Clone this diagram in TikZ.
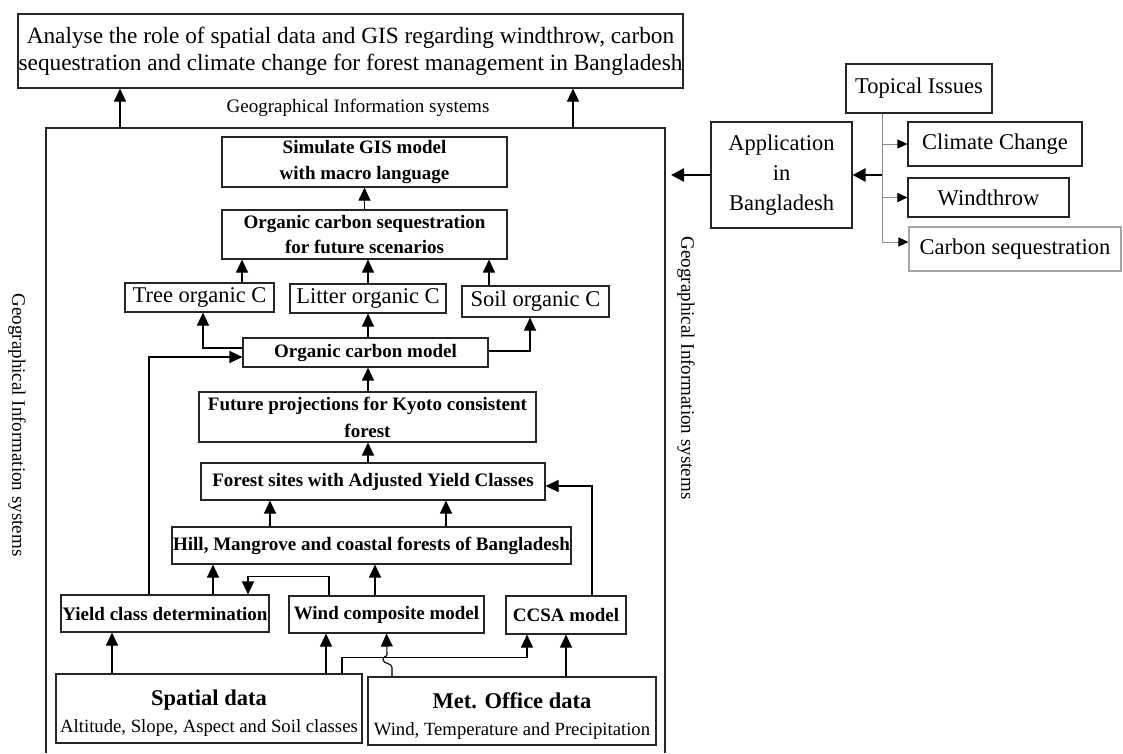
\documentclass[tikz,border=0pt]{standalone}
\usepackage{fontspec}
\setmainfont{Liberation Serif}
\usetikzlibrary{arrows.meta}

\begin{document}
\begin{tikzpicture}[
    x=1pt, y=-1pt,
    every node/.style={inner sep=0pt, align=center},
    box/.style={rectangle, draw=black!85, line width=1.1pt, font=\fontsize{22.5}{27}\selectfont},
    model/.style={rectangle, draw=black!85, line width=1.1pt, font=\fontsize{19}{25}\selectfont\bfseries},
    data/.style={rectangle, draw=black!85, line width=1.1pt, font=\fontsize{18.7}{27}\selectfont},
    gistext/.style={font=\fontsize{19}{22}\selectfont},
    arrow/.style={-{Triangle[length=13pt,width=12pt]}, line width=1.1pt}, % thin flow arrows
    bigarrow/.style={-{Triangle[length=13pt,width=13pt]}, line width=2.6pt},
    branch/.style={-{Triangle[length=10pt,width=9pt,color=black,fill=black]}, draw=black!45, line width=0.9pt}
]
\useasboundingbox (0,0) rectangle (1123,753);

\node[box, minimum width=665pt, minimum height=74pt, font=\fontsize{23.3}{27}\selectfont] (title) at (350.5,51) {Analyse the role of spatial data and GIS regarding windthrow, carbon\\sequestration and climate change for forest management in Bangladesh};

% GIS frame
\coordinate (gisNW) at (46,128);
\coordinate (gisNE) at (665,128);
\draw[line width=1.1pt, draw=black!85] (46,753) -- (gisNW) -- (gisNE) -- (665,753);
\node[gistext] (gistop) at (358,108) {Geographical Information systems};
\node[gistext, rotate=-90] (gisleft) at (17,425) {Geographical Information systems};
\node[gistext, rotate=-90] (gisright) at (686,368) {Geographical Information systems};

\node[model, minimum width=285pt, minimum height=50pt] (simulate) at (364.5,162) {Simulate GIS model\\with macro language};
\node[model, minimum width=285pt, minimum height=49pt] (sequest) at (364.5,234.5) {Organic carbon sequestration\\for future scenarios};
\node[box, minimum width=149pt, minimum height=29pt] (tree) at (199.5,297.5) {Tree organic C};
\node[box, minimum width=156pt, minimum height=29pt] (litter) at (368,298.5) {Litter organic C};
\node[box, minimum width=147pt, minimum height=31pt] (soil) at (535.5,301.5) {Soil organic C};
\node[model, minimum width=245pt, minimum height=29pt] (ocmodel) at (365.5,352.5) {Organic carbon model};
\node[model, minimum width=337pt, minimum height=50pt, font=\fontsize{19}{27}\selectfont\bfseries] (future) at (367.5,417) {Future projections for Kyoto consistent\\forest};
\node[model, minimum width=344pt, minimum height=37pt] (sites) at (373,481.5) {Forest sites with Adjusted Yield Classes};
\node[model, minimum width=399pt, minimum height=37pt] (forests) at (371.5,545.5) {Hill, Mangrove and coastal forests of Bangladesh};
\node[model, minimum width=208pt, minimum height=37pt] (yield) at (165,613.5) {Yield class determination};
\node[model, minimum width=195pt, minimum height=37pt] (wind) at (386.5,614.5) {Wind composite model};
\node[model, minimum width=120pt, minimum height=38pt] (ccsa) at (566,615) {CCSA model};
\node[data, minimum width=306pt, minimum height=69pt] (spatial) at (209,708.5) {\rule{0pt}{25pt}{\fontsize{22.5}{27}\selectfont\bfseries Spatial data}\\Altitude, Slope, Aspect and Soil classes};
\node[data, minimum width=288pt, minimum height=68pt] (met) at (512,711) {\rule{0pt}{25pt}{\fontsize{22.5}{27}\selectfont\bfseries Met. Office data}\\Wind, Temperature and Precipitation};

\node[box, minimum width=146pt, minimum height=49pt] (topical) at (919,88.5) {Topical Issues};
\node[box, minimum width=141pt, minimum height=106pt, font=\fontsize{22.5}{30}\selectfont] (app) at (781.5,175) {Application\\in\\Bangladesh};
\node[box, minimum width=174pt, minimum height=44pt] (climate) at (995,144) {Climate Change};
\node[box, minimum width=161pt, minimum height=39pt] (windthrow) at (988.5,197.5) {Windthrow};
\node[box, draw=black!35, minimum width=212pt, minimum height=44pt] (carbon) at (1015,249) {Carbon sequestration};

\draw[arrow] ([xshift=74pt]gisNW) -- ([xshift=74pt]gisNW |- title.south);
\draw[arrow] ([xshift=-92pt]gisNE) -- ([xshift=-92pt]gisNE |- title.south);
\draw[arrow] (sequest) -- (simulate);
\draw[arrow] ([xshift=42.5pt]tree.north) -- ([xshift=42.5pt]tree.north |- sequest.south);
\draw[arrow] (litter.north) -- (litter.north |- sequest.south);
\draw[arrow] ([xshift=-46.5pt]soil.north) -- ([xshift=-46.5pt]soil.north |- sequest.south);
\draw[arrow] (ocmodel.north -| litter) -- (litter.south);
\draw[arrow] ([yshift=4.5pt]ocmodel.west) -| ([xshift=3.5pt]tree.south);
\draw[arrow] ([yshift=1.5pt]ocmodel.east) -| ([xshift=-5.5pt]soil.south);
\draw[arrow] (future.north -| litter) -- (ocmodel.south -| litter);
\draw[arrow] (sites.north -| litter) -- (future.south -| litter);
\draw[arrow] ([xshift=-101.5pt]forests.north) -- ([xshift=-101.5pt]forests.north |- sites.south);
\draw[arrow] ([xshift=74.5pt]forests.north) -- ([xshift=74.5pt]forests.north |- sites.south);
\draw[arrow] ([xshift=48pt]yield.north) -- ([xshift=48pt]yield.north |- forests.south);
\draw[arrow] ([xshift=-11.5pt]wind.north) -- ([xshift=-11.5pt]wind.north |- forests.south);
\draw[arrow] ([xshift=-57.5pt]wind.north) -- ++(0,-19) -| ([xshift=83pt]yield.north);
\draw[arrow] ([xshift=-16pt]yield.north) |- ([yshift=-4.5pt]ocmodel.west);
\draw[arrow] ([xshift=26pt]ccsa.north) |- ([yshift=-4.5pt]sites.east);
\draw[arrow] ([xshift=-97pt]spatial.north) -- ([xshift=-97pt]spatial.north |- yield.south);
\draw[arrow] ([xshift=117pt]spatial.north) -- ([xshift=117pt]spatial.north |- wind.south);
\draw[arrow] ([xshift=133pt]spatial.north) -- ++(0,-16) -| ([xshift=-39pt]ccsa.south);
\draw[arrow] (met.north -| ccsa) -- (ccsa.south);
\draw[arrow] ([xshift=-120pt]met.north) -- ++(0,-9) .. controls +(0,-5) and +(0,5) .. ++(-9,-8) .. controls +(0,-4) and +(0,3) .. ++(4,-5) -- (wind.south);

\draw[branch] ([xshift=-37pt]topical.south) |- (climate.west);
\draw[branch] ([xshift=-37pt]topical.south) |- (windthrow.west);
\draw[branch] ([xshift=-37pt]topical.south) |- ([yshift=7pt]carbon.west);
\draw[bigarrow] ([xshift=-37pt]topical.south |- app.east) -- (app.east);
\draw[bigarrow, shorten >=6pt] (app.west) -- (app.west -| gisNE);

\end{tikzpicture}
\end{document}
